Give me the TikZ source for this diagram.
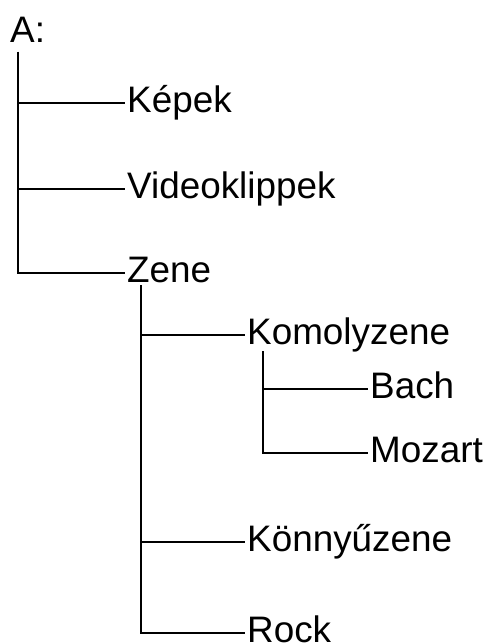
\documentclass[tikz,border=0pt]{standalone}
\usepackage{fontspec}
\setmainfont{Liberation Sans}[Scale=3.7]
\usetikzlibrary{positioning}

\begin{document}
\begin{tikzpicture}[
  x=1bp, y=-1bp,
  it/.style={anchor=mid west, inner sep=2bp},
  br/.style={line width=1.6bp}]
\useasboundingbox (0,0) rectangle (493,644);

% ---- Level 0: drive ----
\node[it] (root) at (8,33) {A:};
\coordinate (s0) at (18,52);

% ---- Level 1: folders on the drive ----
\node[it] (kepek) at (125,103) {Képek};
\node[it] (video) at (125,189) {Videoklippek};
\node[it] (zene)  at (125,273) {Zene};
\draw[br] (s0) |- (kepek.mid west);
\draw[br] (s0) |- (video.mid west);
\draw[br] (s0) |- (zene.mid west);

% ---- Level 2: inside Zene ----
\coordinate (s1) at (141,285);
\node[it] (komoly) at (245,335) {Komolyzene};
\node[it] (konny)  at (245,542) {Könnyűzene};
\node[it] (rock)   at (245,633) {Rock};
\draw[br] (s1) |- (komoly.mid west);
\draw[br] (s1) |- (konny.mid west);
\draw[br] (s1) |- (rock.mid west);

% ---- Level 3: inside Komolyzene ----
\coordinate (s2) at (263,351);
\node[it] (bach)   at (368,389) {Bach};
\node[it] (mozart) at (368,453) {Mozart};
\draw[br] (s2) |- (bach.mid west);
\draw[br] (s2) |- (mozart.mid west);
\end{tikzpicture}
\end{document}
